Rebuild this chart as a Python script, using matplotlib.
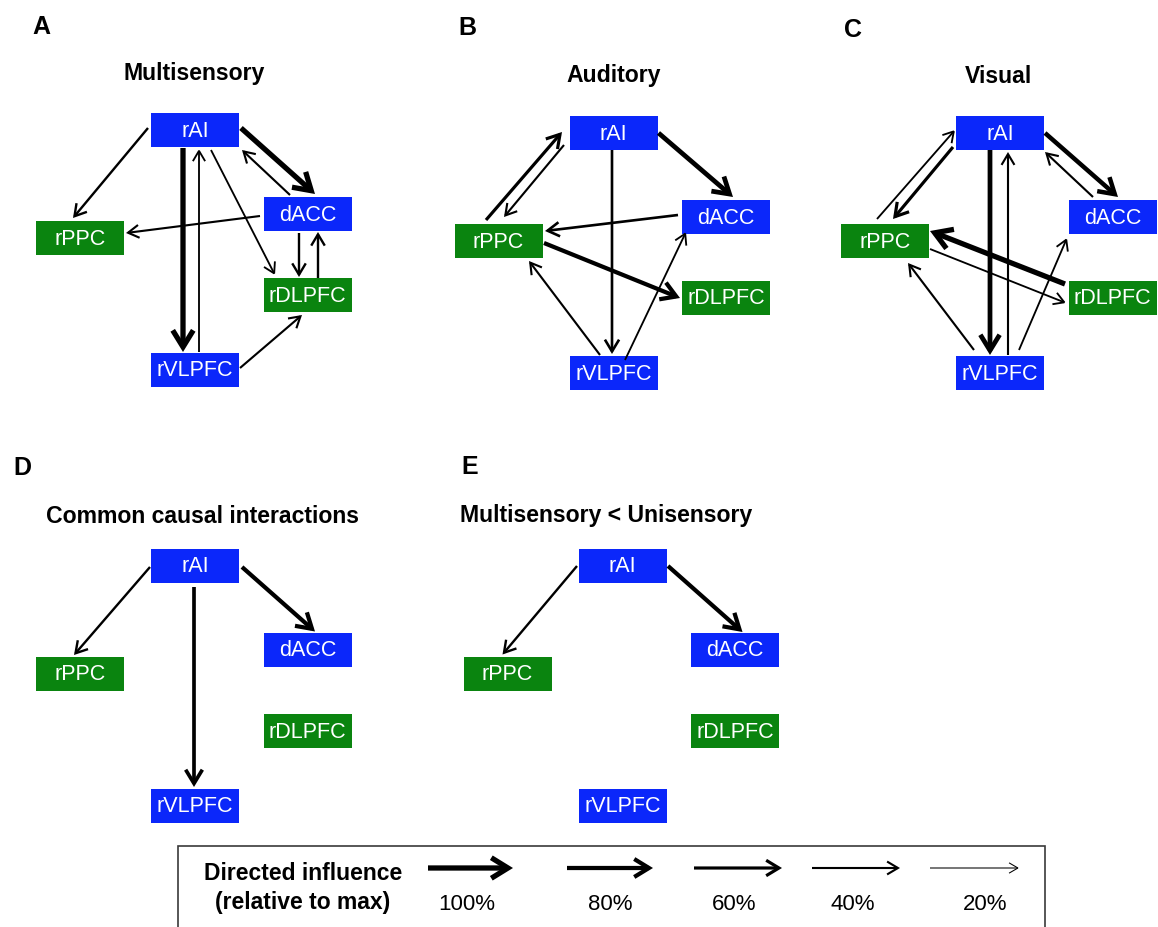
import matplotlib
matplotlib.use("Agg")
import matplotlib.pyplot as plt
from matplotlib.patches import Rectangle, FancyArrowPatch, ArrowStyle

plt.rcParams['font.family'] = ['Liberation Sans', 'DejaVu Sans']

# ---------------------------------------------------------------- data
regions = ["rAI", "dACC", "rPPC", "rDLPFC", "rVLPFC"]
region_network = ["SN", "SN", "CEN", "CEN", "SN"]

panel_letters = ["A", "B", "C", "D", "E"]
panel_titles = ["Multisensory", "Auditory", "Visual",
                "Common causal interactions", "Multisensory < Unisensory"]

# directed influences: source, target, strength relative to the maximum
A_src = ["rAI", "dACC", "rAI", "dACC", "rAI", "rVLPFC", "rAI", "dACC", "rDLPFC", "rVLPFC"]
A_dst = ["dACC", "rAI", "rPPC", "rPPC", "rVLPFC", "rAI", "rDLPFC", "rDLPFC", "dACC", "rDLPFC"]
A_weight = [1.0, 0.4, 0.45, 0.4, 1.0, 0.35, 0.35, 0.45, 0.45, 0.4]

B_src = ["rAI", "rPPC", "rAI", "rAI", "dACC", "rPPC", "rVLPFC", "rVLPFC"]
B_dst = ["dACC", "rAI", "rPPC", "rVLPFC", "rPPC", "rDLPFC", "rPPC", "dACC"]
B_weight = [0.9, 0.6, 0.4, 0.5, 0.5, 0.8, 0.4, 0.35]

C_src = ["rAI", "dACC", "rPPC", "rAI", "rAI", "rVLPFC", "rDLPFC", "rPPC", "rVLPFC", "rVLPFC"]
C_dst = ["dACC", "rAI", "rAI", "rPPC", "rVLPFC", "rAI", "rPPC", "rDLPFC", "rPPC", "dACC"]
C_weight = [0.85, 0.4, 0.35, 0.6, 0.9, 0.4, 1.0, 0.35, 0.4, 0.35]

D_src = ["rAI", "rAI", "rAI"]
D_dst = ["dACC", "rPPC", "rVLPFC"]
D_weight = [0.8, 0.45, 0.7]

E_src = ["rAI", "rAI"]
E_dst = ["dACC", "rPPC"]
E_weight = [0.8, 0.45]

legend_levels = [100, 80, 60, 40, 20]

# ---------------------------------------------------------------- layout (pixels)
W, H = 1158, 927
network_color = {"SN": "#0b27fa", "CEN": "#0a840f"}
box_w, box_h = 88, 34
node_offset = {"rAI": (0, 0), "dACC": (112.5, 84), "rPPC": (-115, 108),
               "rDLPFC": (112.5, 165), "rVLPFC": (0, 240)}
panel_origin = {"A": (195, 130), "B": (613.5, 133), "C": (1000, 133),
                "D": (195, 566), "E": (622.5, 566)}
letter_pos = {"A": (41, 27), "B": (467, 28), "C": (853, 30), "D": (22, 468), "E": (470, 467)}
title_pos = {"A": (194, 79.5), "B": (614, 81.5), "C": (998, 83),
             "D": (202, 523), "E": (606, 522)}

# where each arrow leaves its source and reaches its target (offset from box centre)
anchors = {
    "A": [((46, -2), (7.5, -20)), ((-17.5, -19), (47, 20)), ((-47, -2), (-7, -20)),
          ((-47.5, 2), (46, -5)), ((-12, 18), (-12, -18)), ((4, -18), (4, 19)),
          ((16, 20), (-32.5, -20)), ((-8.5, 19), (-8.5, -18)), ((10.5, -17), (10.5, 18)),
          ((45, -2), (-5.5, 20))],
    "B": [((45, 0), (7, -20)), ((-12.5, -21), (-51.5, -1)), ((-49.5, 12), (5.5, -24)),
          ((-1.5, 17), (-1.5, -19)), ((-48, -2), (46.5, -10)), ((45.5, 2), (-46, 0)),
          ((-13.5, -18), (30.5, 20)), ((11.5, -13), (-40, 15))],
    "C": [((45, 0), (5.5, -20)), ((-19.5, -20), (45, 19)), ((-8, -22), (-45, -3)),
          ((-47, 14), (8, -22)), ((-10, 17), (-10, -18)), ((8, -18), (8, 19)),
          ((-47.5, -14), (45, -10)), ((45, 8), (-46.5, 5)), ((-26, -23), (23, 22)),
          ((19, -23), (-45.5, 21))],
    "D": [((47, 1), (7.5, -18.5)), ((-45, 1), (-6, -19)), ((-1, 21), (-1, -19))],
    "E": [((45.5, 0), (7.5, -18)), ((-45.5, 0), (-5, -19.5))],
}

panel_edges = {"A": (A_src, A_dst, A_weight), "B": (B_src, B_dst, B_weight),
               "C": (C_src, C_dst, C_weight), "D": (D_src, D_dst, D_weight),
               "E": (E_src, E_dst, E_weight)}


def arrow_style(w):
    return dict(lw=3.8 * w,
                arrowstyle=ArrowStyle("->", head_length=5.0 + 7.0 * w,
                                      head_width=2.8 + 4.6 * w))


def draw_arrow(ax, p0, p1, w, color="black"):
    st = arrow_style(w)
    ax.add_patch(FancyArrowPatch(p0, p1, arrowstyle=st["arrowstyle"], lw=st["lw"],
                                 color=color, shrinkA=0, shrinkB=0, mutation_scale=1,
                                 joinstyle="miter", capstyle="butt", zorder=3))


fig = plt.figure(figsize=(W / 100, H / 100), dpi=100)
ax = fig.add_axes([0, 0, 1, 1])
ax.set_xlim(0, W)
ax.set_ylim(H, 0)
ax.axis("off")

for letter, title in zip(panel_letters, panel_titles):
    ox, oy = panel_origin[letter]
    centers = {}
    for reg, net in zip(regions, region_network):
        cx, cy = ox + node_offset[reg][0], oy + node_offset[reg][1]
        centers[reg] = (cx, cy)
        ax.add_patch(Rectangle((cx - box_w / 2, cy - box_h / 2), box_w, box_h,
                               facecolor=network_color[net], edgecolor="none", zorder=2))
        ax.text(cx, cy + 1, reg, color="white", fontsize=15.5, ha="center",
                va="center", zorder=4)
    src, dst, wts = panel_edges[letter]
    for (s, d, w), (a0, a1) in zip(zip(src, dst, wts), anchors[letter]):
        p0 = (centers[s][0] + a0[0], centers[s][1] + a0[1])
        p1 = (centers[d][0] + a1[0], centers[d][1] + a1[1])
        draw_arrow(ax, p0, p1, w)
    lx, ly = letter_pos[letter]
    ax.text(lx, ly, letter, fontsize=18, fontweight="bold", ha="center", va="center")
    tx, ty = title_pos[letter]
    ax.text(tx, ty, title, fontsize=16.6, fontweight="bold", ha="center", va="baseline")

# legend of arrow widths
ax.add_patch(Rectangle((178, 846), 1045 - 178, 120, facecolor="white",
                       edgecolor="#3a3a3a", lw=1.2, zorder=1, clip_on=True))
ax.text(303, 880, "Directed influence", fontsize=16.5, fontweight="bold",
        ha="center", va="baseline")
ax.text(303, 909, "(relative to max)", fontsize=16.5, fontweight="bold",
        ha="center", va="baseline")
legend_arrow_x = [(428, 513), (567, 653), (694, 782), (812, 900), (930, 1019)]
legend_label_x = [467, 610, 734, 853, 985]
for lev, (x0, x1), tx in zip(legend_levels, legend_arrow_x, legend_label_x):
    draw_arrow(ax, (x0, 868), (x1, 868), lev / 100)
    ax.text(tx, 910, f"{lev}%", fontsize=16, ha="center", va="baseline")

fig.savefig("out.png", dpi=100, facecolor="white")
